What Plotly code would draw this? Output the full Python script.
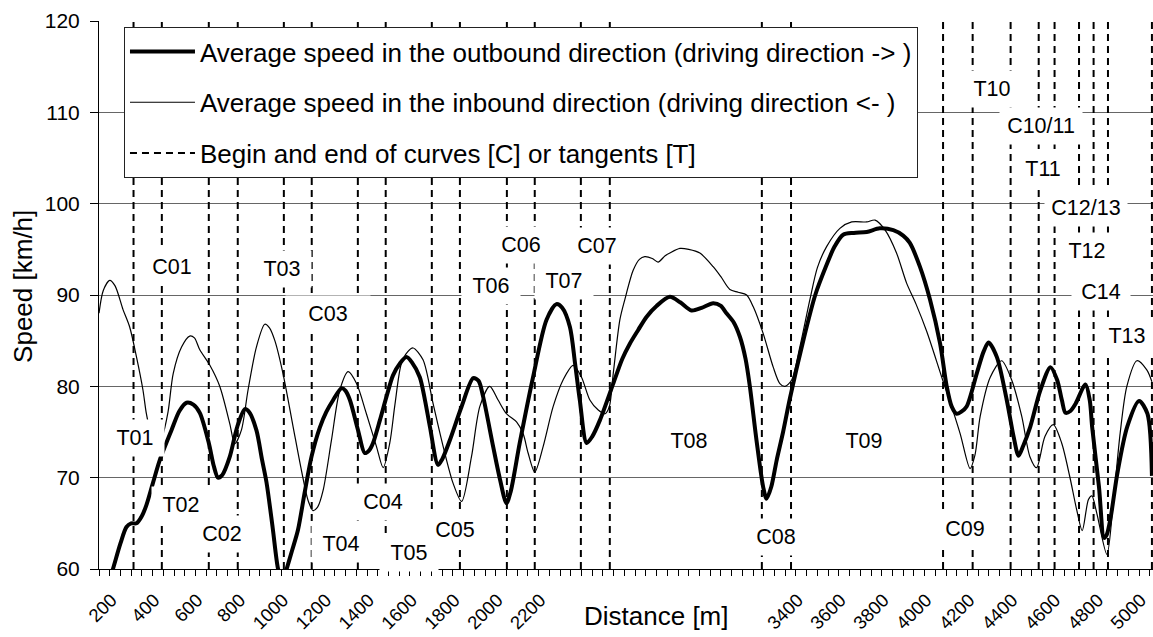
import plotly.graph_objects as go

# distances [m] and average speeds [km/h]
out_dist = [120, 165, 200, 228, 250, 275, 300, 321, 350, 383, 438, 475, 508, 540, 570, 612, 635, 655, 675,
            710, 745, 780, 800, 834, 860, 881, 910, 935, 955, 975, 1000, 1028, 1060, 1091, 1130, 1160, 1192,
            1231, 1250, 1270, 1308, 1339, 1360, 1378, 1410, 1441, 1471, 1503, 1534, 1560, 1596, 1620, 1643,
            1681, 1700, 1736, 1791, 1845, 1870, 1891, 1938, 1970, 2000, 2020, 2062, 2124, 2187, 2233, 2260,
            2296, 2320, 2342, 2374, 2400, 2436, 2498, 2540, 2576, 2615, 2653, 2700, 2762, 2810, 2863, 2910,
            2964, 3000, 3026, 3060, 3089, 3115, 3135, 3166, 3197, 3213, 3235, 3260, 3290, 3322, 3384, 3440,
            3493, 3530, 3570, 3620, 3680, 3741, 3804, 3850, 3881, 3928, 3975, 4022, 4053, 4076, 4099, 4120,
            4146, 4193, 4225, 4248, 4287, 4333, 4365, 4388, 4410, 4443, 4490, 4537, 4568, 4590, 4607, 4630,
            4654, 4700, 4720, 4731, 4763, 4787, 4800, 4818, 4849, 4895, 4950, 4989, 5010]
out_speed = [56.6, 60.0, 62.8, 64.6, 65.0, 65.0, 65.8, 67.0, 69.3, 71.9, 75.2, 77.3, 78.2, 78.0, 77.1, 73.8,
             71.3, 70.0, 70.3, 72.3, 75.6, 77.5, 77.2, 75.2, 72.0, 69.5, 64.5, 60.0, 58.5, 60.0, 62.0, 64.3,
             68.5, 72.3, 75.5, 77.2, 78.5, 79.8, 79.5, 78.5, 75.2, 72.7, 73.0, 73.8, 76.3, 78.9, 81.2, 82.5,
             83.2, 82.6, 81.0, 78.5, 75.6, 71.4, 72.0, 74.1, 77.8, 80.9, 80.6, 78.9, 73.4, 69.8, 67.2, 68.5,
             73.8, 81.0, 87.3, 89.0, 88.6, 86.5, 82.5, 78.5, 73.8, 74.5, 76.3, 80.3, 83.0, 84.7, 86.2, 87.6,
             88.8, 89.8, 89.2, 88.3, 88.6, 89.1, 88.8, 88.0, 87.0, 85.4, 83.0, 80.0, 74.1, 69.0, 67.7, 69.0,
             71.9, 75.0, 78.7, 85.0, 90.0, 93.3, 95.3, 96.6, 96.8, 96.9, 97.3, 97.1, 96.5, 95.7, 93.1, 89.5,
             84.7, 80.0, 77.8, 77.0, 77.2, 77.8, 81.4, 83.8, 84.8, 83.2, 78.5, 74.5, 72.4, 73.5, 75.6, 79.6,
             82.1, 80.7, 78.5, 77.1, 77.3, 78.1, 80.2, 78.5, 75.6, 69.0, 63.4, 63.8, 65.7, 70.5, 75.6, 78.4,
             77.0, 70.2]

in_dist = [100, 120, 150, 175, 212, 243, 275, 305, 321, 345, 370, 395, 422, 446, 485, 523, 545, 570, 617,
           663, 710, 733, 764, 795, 834, 873, 895, 920, 958, 1005, 1044, 1075, 1098, 1120, 1145, 1184, 1223,
           1262, 1301, 1347, 1394, 1425, 1456, 1480, 1510, 1540, 1565, 1611, 1658, 1705, 1751, 1791, 1837,
           1876, 1922, 1961, 2000, 2047, 2078, 2101, 2132, 2171, 2218, 2264, 2311, 2350, 2389, 2428, 2460,
           2480, 2498, 2529, 2552, 2591, 2620, 2645, 2680, 2707, 2740, 2762, 2809, 2850, 2902, 2964, 3000,
           3042, 3080, 3120, 3151, 3197, 3244, 3275, 3299, 3330, 3368, 3415, 3450, 3493, 3555, 3610, 3680,
           3719, 3766, 3819, 3866, 3910, 3960, 4030, 4069, 4116, 4162, 4185, 4209, 4256, 4309, 4356, 4403,
           4441, 4472, 4511, 4550, 4589, 4627, 4659, 4685, 4714, 4730, 4753, 4800, 4831, 4862, 4893, 4940,
           4986, 5010]
in_speed = [88.0, 90.5, 91.6, 91.0, 88.4, 86.5, 83.2, 79.6, 77.0, 74.5, 73.5, 74.5, 77.2, 81.4, 84.3, 85.5,
            85.3, 84.0, 82.3, 80.0, 75.9, 73.7, 75.2, 79.6, 84.3, 86.8, 86.4, 85.0, 81.4, 75.6, 70.8, 67.5,
            66.4, 66.8, 68.6, 74.1, 79.6, 81.6, 80.3, 77.0, 73.4, 71.1, 73.8, 78.0, 82.5, 83.8, 84.2, 82.9,
            78.1, 73.4, 69.4, 67.4, 72.3, 77.8, 80.0, 78.5, 77.0, 76.1, 74.8, 72.7, 70.6, 73.4, 77.8, 80.7,
            82.3, 81.0, 78.5, 77.4, 77.0, 77.8, 81.4, 87.3, 89.5, 92.7, 93.9, 94.2, 94.0, 93.6, 94.3, 94.6,
            95.1, 95.0, 94.6, 93.1, 92.0, 90.6, 90.3, 90.0, 88.7, 85.8, 82.1, 80.3, 80.0, 80.7, 84.3, 89.5,
            93.0, 95.3, 97.3, 98.0, 98.0, 98.2, 97.1, 94.6, 91.3, 89.0, 86.0, 81.0, 78.3, 74.8, 71.0, 72.5,
            76.7, 81.0, 82.8, 80.7, 76.7, 72.3, 71.1, 74.5, 75.8, 73.8, 70.1, 66.5, 64.2, 67.6, 68.0, 66.1,
            61.6, 67.6, 74.9, 80.0, 82.8, 81.8, 80.5]

# begin/end of curves and tangents [m]
boundaries = [261, 393, 612, 747, 962, 1092, 1307, 1437, 1652, 1783, 2002, 2132, 2347, 2482, 3191, 3327,
              4036, 4174, 4351, 4482, 4556, 4670, 4738, 4805, 5010]

# section labels: name, distance [m], speed position [km/h]
sec_names = ["C01", "T01", "T02", "C02", "T03", "C03", "T04", "C04", "T05", "C05", "T06", "C06", "T07",
             "C07", "T08", "C08", "T09", "C09", "T10", "C10/11", "T11", "C12/13", "T12", "C14", "T13"]
sec_x = [439, 267, 481, 672, 952, 1167, 1228, 1423, 1545, 1759, 1927, 2067, 2268, 2422, 2851, 3257, 3667,
         4138, 4264, 4493, 4502, 4703, 4707, 4773, 4894]
sec_y = [93.3, 74.6, 67.2, 64.0, 93.1, 88.1, 63.0, 67.6, 62.0, 64.5, 91.2, 95.7, 91.8, 95.6, 74.2, 63.7,
         74.2, 64.6, 112.8, 108.7, 104.0, 99.7, 95.0, 90.5, 85.7]

tick_vals = list(range(100, 5001, 50))
tick_labels = ["200", "400", "600", "800", "1000", "1200", "1400", "1600", "1800", "2000", "2200",
               "3400", "3600", "3800", "4000", "4200", "4400", "4600", "4800", "5000"]

FONT = "Liberation Sans, Arial, sans-serif"

dash_x, dash_y = [], []
for b in boundaries:
    dash_x += [b, b, None]
    dash_y += [60, 120, None]

fig = go.Figure()
fig.add_trace(go.Scatter(x=dash_x, y=dash_y, mode="lines", legendgroup="c", legendrank=3,
                         name="Begin and end of curves [C] or tangents [T]",
                         line=dict(color="black", width=2, dash="7px,5px")))
fig.add_trace(go.Scatter(x=in_dist, y=in_speed, mode="lines", legendgroup="b", legendrank=2,
                         name="Average speed in the inbound direction (driving direction <- )",
                         line=dict(color="black", width=1.2, shape="spline", smoothing=0.8)))
fig.add_trace(go.Scatter(x=out_dist, y=out_speed, mode="lines", legendgroup="a", legendrank=1,
                         name="Average speed in the outbound direction (driving direction -> )",
                         line=dict(color="black", width=4, shape="spline", smoothing=0.8)))

ticktext = []
for v in tick_vals:
    ticktext.append(str(v) if str(v) in tick_labels else "")

# the label boxes are white and hide the lines behind them; C03's box is wider
box_w = {"C03": 72, "C10/11": 70, "C12/13": 70}
for name, x, y in zip(sec_names, sec_x, sec_y):
    fig.add_annotation(x=x, y=y, text=name, showarrow=False, bgcolor="white",
                       width=box_w.get(name, 46), borderpad=6, yshift=-2,
                       font=dict(size=21.5, color="black", family=FONT))

fig.add_annotation(xref="paper", yref="paper", x=-0.072, y=0.515, xanchor="center", yanchor="middle",
                   text="Speed [km/h]", textangle=-90, showarrow=False,
                   font=dict(size=26, color="black", family=FONT))
fig.add_annotation(xref="paper", yref="paper", x=0.529, y=-0.086, xanchor="center", yanchor="middle",
                   text="Distance [m]", showarrow=False, font=dict(size=26, color="black", family=FONT))

fig.update_layout(
    width=1153, height=637,
    margin=dict(l=99, r=0, t=21, b=68, autoexpand=False),
    paper_bgcolor="white", plot_bgcolor="white",
    font=dict(family=FONT, size=21, color="black"),
    showlegend=True,
    legend=dict(x=0.0237, y=0.989, xanchor="left", yanchor="top", bgcolor="white",
                bordercolor="#222", borderwidth=1, tracegroupgap=14, itemwidth=65,
                font=dict(size=26, family=FONT)),
    xaxis=dict(range=[100, 5015], tickvals=tick_vals, ticktext=ticktext, tickangle=-45,
               ticks="outside", ticklen=6, tickcolor="black", showgrid=False, zeroline=False,
               showline=True, linecolor="black", linewidth=1, tickfont=dict(size=18.5),
               ticklabelshift=-9, ticklabelstandoff=6, ticklabeloverflow="allow", automargin=False),
    yaxis=dict(range=[60, 120], tickvals=[60, 70, 80, 90, 100, 110, 120], ticks="outside", ticklen=8,
               tickcolor="black", showgrid=True, gridcolor="#666", gridwidth=1, zeroline=False,
               showline=True, linecolor="black", linewidth=1, tickfont=dict(size=21),
               ticklabelstandoff=6, automargin=False),
)

# the page body has a default 8px margin; drop it so the figure fills the window exactly
fig.write_html("out.html", config={"displayModeBar": False},
               post_script="document.body.style.margin = '0';")
